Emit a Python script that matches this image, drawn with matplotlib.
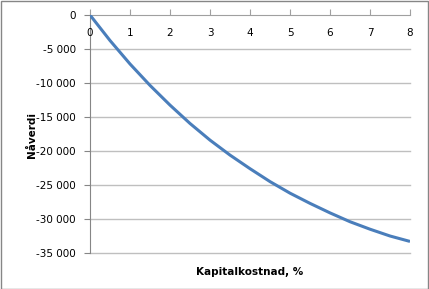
import matplotlib
matplotlib.use("Agg")
import matplotlib.pyplot as plt
from matplotlib.patches import Rectangle

# data
rate = [0, 0.5, 1, 1.5, 2, 2.5, 3, 3.5, 4, 4.5, 5, 5.5, 6, 6.5, 7, 7.5, 8]
npv = [0, -3750, -7200, -10350, -13250, -15950, -18400, -20600, -22600,
       -24500, -26200, -27700, -29100, -30400, -31500, -32500, -33300]
x_ticks = [0, 1, 2, 3, 4, 5, 6, 7, 8]
y_ticks = [0, -5000, -10000, -15000, -20000, -25000, -30000, -35000]

def fmt(v):
    s = f"{abs(v):,}".replace(",", " ")
    return s if v == 0 else "-" + s

fig = plt.figure(figsize=(4.29, 2.89), dpi=100)
ax = fig.add_axes([90/429, 1 - 253/289, 320/429, 238/289])

for y in y_ticks[1:]:
    ax.axhline(y, color="#bfbfbf", lw=1, zorder=1, clip_on=False)

ax.plot(rate, npv, color="#4a7ebb", lw=2.2, zorder=3, solid_capstyle="butt",
        solid_joinstyle="round")

ax.set_xlim(0, 8)
ax.set_ylim(-35000, 0)
ax.spines["right"].set_visible(False)
ax.spines["bottom"].set_visible(False)
ax.spines["top"].set_color("#a0a0a0")
ax.spines["left"].set_color("#868686")

ax.xaxis.set_ticks_position("top")
ax.set_xticks(x_ticks)
ax.tick_params(axis="x", direction="out", length=4, color="#a0a0a0",
               labeltop=False, labelbottom=False)
for v in x_ticks:
    ax.text(v, -1900, str(v), ha="center", va="top", fontsize=7.5, color="#000000")

ax.set_yticks(y_ticks)
ax.set_yticklabels([fmt(v) for v in y_ticks], fontsize=7.5)
ax.tick_params(axis="y", direction="out", length=4, color="#868686", pad=6)

fig.text(250/429, 1 - 272/289, "Kapitalkostnad, %", ha="center", va="center",
         fontsize=7.5, fontweight="bold")
fig.text(32/429, 1 - 135/289, "Nåverdi", ha="center", va="center",
         rotation=90, fontsize=7.5, fontweight="bold")

fig.patches.append(Rectangle((0.5/429, 0.5/289), 427.5/429, 287.5/289,
                             transform=fig.transFigure, fill=False,
                             edgecolor="#868686", lw=1))

fig.savefig("out.png", dpi=100)
